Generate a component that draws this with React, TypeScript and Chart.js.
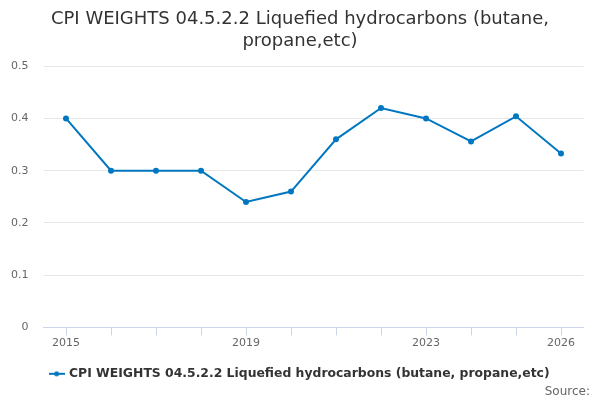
import { useEffect, useRef } from "react"
import { Chart, type ChartConfiguration, registerables } from "chart.js"

Chart.register(...registerables)

const years = ["2015", "2016", "2017", "2018", "2019", "2020", "2021", "2022", "2023", "2024", "2025", "2026"]
const weights = [0.4, 0.3, 0.3, 0.3, 0.24, 0.26, 0.36, 0.42, 0.4, 0.356, 0.404, 0.333]
const shownYears = ["2015", "2019", "2023", "2026"]

const seriesName = "CPI WEIGHTS 04.5.2.2 Liquefied hydrocarbons (butane, propane,etc)"
const titleLines = ["CPI WEIGHTS 04.5.2.2 Liquefied hydrocarbons (butane,", "propane,etc)"]

const lineColor = "#0077c0"
const font = "'DejaVu Sans', sans-serif"

// legend symbol: short line with a dot in the middle
function legendSymbol() {
  const c = document.createElement("canvas")
  c.width = 16
  c.height = 8
  const g = c.getContext("2d")
  if (g) {
    g.strokeStyle = lineColor
    g.lineWidth = 2
    g.beginPath()
    g.moveTo(0, 4)
    g.lineTo(16, 4)
    g.stroke()
    g.fillStyle = lineColor
    g.beginPath()
    g.arc(8, 4, 2.5, 0, Math.PI * 2)
    g.fill()
  }
  return c
}

const sourcePlugin = {
  id: "sourceText",
  afterDraw(chart: Chart) {
    const { ctx, width, height } = chart
    ctx.save()
    ctx.font = `12px ${font}`
    ctx.fillStyle = "#666666"
    ctx.textAlign = "right"
    ctx.textBaseline = "bottom"
    ctx.fillText("Source:", width - 10, height - 2)
    ctx.restore()
  },
}

export default function App() {
  const chartRef = useRef<HTMLCanvasElement>(null)
  const chartInstance = useRef<Chart | null>(null)

  useEffect(() => {
    if (!chartRef.current) return
    if (chartInstance.current) chartInstance.current.destroy()
    const ctx = chartRef.current.getContext("2d")
    if (!ctx) return

    const config: ChartConfiguration = {
      type: "line",
      data: {
        labels: years,
        datasets: [
          {
            label: seriesName,
            data: weights,
            borderColor: lineColor,
            backgroundColor: lineColor,
            borderWidth: 2,
            pointRadius: 2,
            pointHoverRadius: 3,
            tension: 0,
            pointStyle: "circle",
          },
        ],
      },
      options: {
        animation: false,
        responsive: true,
        maintainAspectRatio: false,
        layout: { padding: { left: 0, right: 0, top: 5, bottom: 10 } },
        plugins: {
          title: {
            display: true,
            text: titleLines,
            color: "#333333",
            font: { family: font, size: 18, weight: "normal", lineHeight: 1.2 },
            padding: { top: 4, bottom: 14 },
          },
          legend: {
            display: true,
            position: "bottom",
            labels: {
              color: "#333333",
              font: { family: font, size: 12.4, weight: "bold" },
              usePointStyle: true,
              pointStyle: legendSymbol(),
              padding: 17,
            },
          },
          tooltip: { enabled: false },
        },
        scales: {
          x: {
            offset: true,
            grid: {
              drawOnChartArea: false,
              drawTicks: true,
              tickLength: 8,
              color: "#ccd6eb",
            },
            border: { color: "#ccd6eb" },
            ticks: {
              autoSkip: false,
              maxRotation: 0,
              color: "#666666",
              font: { family: font, size: 11 },
              padding: 1,
              callback: (_v, i) => (shownYears.includes(years[i]) ? years[i] : ""),
            },
          },
          y: {
            min: 0,
            max: 0.5,
            afterFit: (s) => {
              s.width = 43.5
            },
            grid: { color: "#e6e6e6", drawTicks: false },
            border: { display: false },
            ticks: {
              stepSize: 0.1,
              color: "#666666",
              font: { family: font, size: 11 },
              padding: 15,
            },
          },
          // empty right-hand axis, only reserves the right margin
          yRight: {
            position: "right",
            afterFit: (s) => {
              s.width = 16.5
            },
            grid: { drawOnChartArea: false, drawTicks: false },
            border: { display: false },
            ticks: { display: false },
          },
        },
      },
      plugins: [sourcePlugin],
    }

    chartInstance.current = new Chart(ctx, config)
    return () => {
      if (chartInstance.current) chartInstance.current.destroy()
      chartInstance.current = null
    }
  }, [])

  return (
    <div style={{ position: "absolute", left: 0, top: 0, width: 600, height: 400, background: "#ffffff" }}>
      <canvas ref={chartRef} />
    </div>
  )
}
